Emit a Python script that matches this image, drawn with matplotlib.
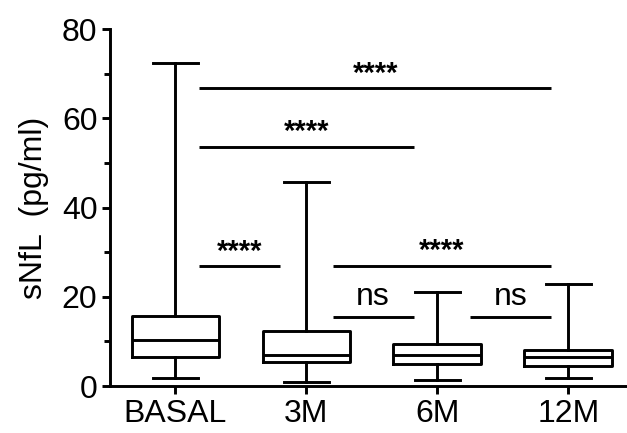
import matplotlib
matplotlib.use("Agg")
import matplotlib.pyplot as plt
from matplotlib.ticker import MultipleLocator

plt.rcParams['font.family'] = ['Liberation Sans', 'DejaVu Sans']

groups = ["BASAL", "3M", "6M", "12M"]
whislo = [1.9, 0.8, 1.3, 1.9]
q1 = [6.4, 5.4, 4.9, 4.5]
med = [10.3, 7.0, 6.9, 6.4]
q3 = [15.7, 12.4, 9.4, 8.1]
whishi = [72.4, 45.7, 21.1, 22.9]

# comparisons: (start x, end x, bar height, label)
comp_x0 = [0.18, 0.18, 0.18, 1.2, 1.2, 2.25]
comp_x1 = [2.87, 1.82, 0.80, 2.87, 1.82, 2.87]
comp_y = [66.8, 53.6, 26.9, 27.0, 15.5, 15.5]
comp_lbl = ["****", "****", "****", "****", "ns", "ns"]

lw = 2.1

fig = plt.figure(figsize=(6.27, 4.33), dpi=100)
ax = fig.add_axes([0.1754, 0.1085, 0.825, 0.8245])

stats = []
for i, g in enumerate(groups):
    stats.append(dict(label=g, whislo=whislo[i], q1=q1[i], med=med[i],
                      q3=q3[i], whishi=whishi[i], fliers=[]))

ax.bxp(stats, positions=range(len(groups)), widths=0.67, showfliers=False,
       boxprops=dict(linewidth=lw, color='black'),
       medianprops=dict(linewidth=lw, color='black'),
       whiskerprops=dict(linewidth=lw, color='black'),
       capprops=dict(linewidth=lw, color='black'),
       capwidths=0.34)

for x0, x1, y, lbl in zip(comp_x0, comp_x1, comp_y, comp_lbl):
    ax.plot([x0, x1], [y, y], color='black', lw=lw, solid_capstyle='butt')
    if lbl == "ns":
        ax.text((x0 + x1) / 2, y + 1.1, lbl, ha='center', va='bottom', fontsize=23)
    else:
        ax.text((x0 + x1) / 2, y + 0.1, lbl, ha='center', va='bottom',
                fontsize=21, fontweight='bold')

ax.set_xlim(-0.5, 3.45)
ax.set_ylim(0, 80)
ax.yaxis.set_major_locator(MultipleLocator(20))
ax.yaxis.set_minor_locator(MultipleLocator(10))
ax.set_xticks(range(len(groups)))
ax.set_xticklabels(groups)
ax.set_ylabel("sNfL  (pg/ml)", fontsize=23, labelpad=9)

for s in ['top', 'right']:
    ax.spines[s].set_visible(False)
for s in ['left', 'bottom']:
    ax.spines[s].set_linewidth(lw)

ax.tick_params(axis='both', which='major', length=6, width=lw, labelsize=23, pad=3)
ax.tick_params(axis='y', which='minor', length=4, width=lw)

fig.savefig("out.png", dpi=100)
